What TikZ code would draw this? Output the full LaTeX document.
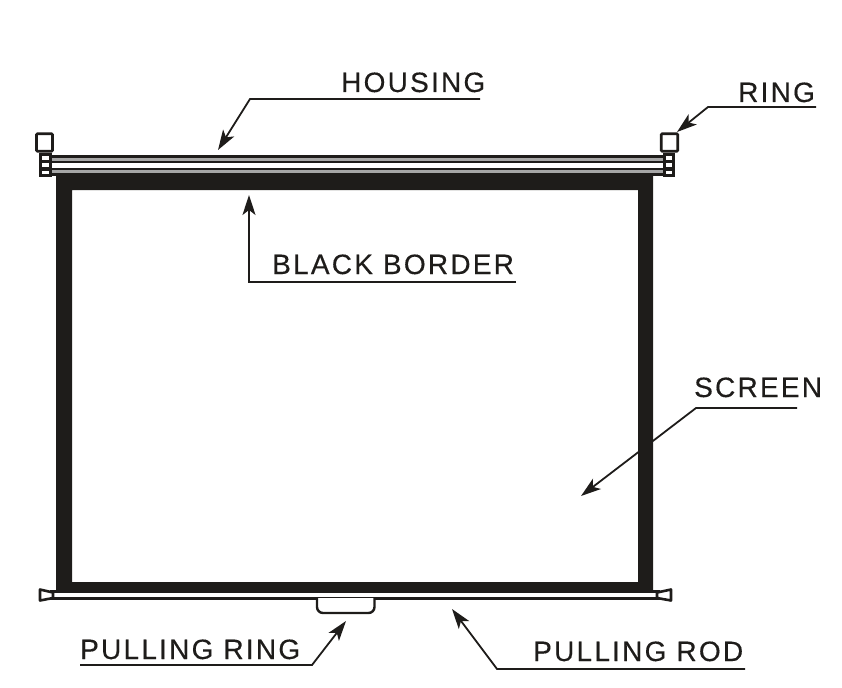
\documentclass[tikz,border=0pt]{standalone}
\usepackage{fontspec}
\setmainfont{Liberation Sans}[LetterSpace=8,FakeBold=0.35]
\usetikzlibrary{arrows.meta}
\definecolor{ink}{HTML}{1E1C1A}
\tikzset{
 lbl/.style={inner sep=0pt,anchor=base west,text=ink,font=\fontsize{28}{32}\selectfont},
 lead/.style={draw=ink,line width=1.8pt,-{Stealth[length=20pt,width=13pt,inset=5pt]}},
 outl/.style={draw=ink,line width=2.6pt,fill=white},
}
\begin{document}
\begin{tikzpicture}[x=1pt,y=-1pt]
\useasboundingbox (0,0) rectangle (842,687);
% black border
\fill[ink,even odd rule] (56,175) rectangle (653,592) (72,190) rectangle (638,582);
% housing
\fill[white] (50,155) rectangle (665,176);
\fill[ink] (50,155) rectangle (665,163.5);
\fill[gray!70] (50,158) rectangle (665,161);
\fill[ink] (50,167.5) rectangle (665,176);
\fill[gray!70] (50,170) rectangle (665,173);
% left ring
\node[outl,minimum width=16pt,minimum height=17.5pt,inner sep=0pt,rounded corners=1pt] (ringL) at (44.5,142.5) {};
\foreach \n/\y in {a/158,b/165,c/172.5}{\node[outl,minimum width=9.5pt,minimum height=6.5pt,inner sep=0pt] (L\n) at (45.5,\y) {};}
% right ring
\node[outl,minimum width=16.5pt,minimum height=17.5pt,inner sep=0pt,rounded corners=1pt] (ringR) at (669.5,142.5) {};
\foreach \n/\y in {a/158,b/165,c/172.5}{\node[outl,minimum width=9.5pt,minimum height=6.5pt,inner sep=0pt] (R\n) at (669,\y) {};}
% pulling rod
\fill[white] (50,592) rectangle (660,597);
\fill[ink] (50,597) rectangle (660,599.5);
\fill[ink] (50,590) rectangle (660,592.5);
% rod end caps
\draw[outl,line join=round] (53,592.5) -- (40,589.5) -- (40,600.5) -- (53,598) -- cycle;
\draw[outl,line join=round] (657,592.5) -- (671,589.5) -- (671,600.5) -- (657,598) -- cycle;
% pulling ring
\draw[draw=ink,line width=2.4pt,rounded corners=6pt,fill=white] (317,598) -- (317,613) -- (374.5,613) -- (374.5,598);
% labels
\node[lbl] (housing) at (341,92) {HOUSING};
\node[lbl] (ring) at (738,102) {RING};
\node[lbl] (border) at (272,274) {BLACK BORDER};
\node[lbl] (screen) at (694,397) {SCREEN};
\node[lbl] (pring) at (80,659) {PULLING RING};
\node[lbl] (prod) at (533,661) {PULLING ROD};
% connector anchors
\coordinate (h0) at (480,99); \coordinate (h1) at (250,99); \coordinate (h2) at (218,150);
\coordinate (r0) at (816,107); \coordinate (r1) at (708,107); \coordinate (r2) at (677,132);
\coordinate (b0) at (516,282); \coordinate (b1) at (249,282); \coordinate (b2) at (249,195);
\coordinate (s0) at (797,408); \coordinate (s1) at (696,408); \coordinate (s2) at (581,496);
\coordinate (p0) at (80,665); \coordinate (p1) at (312,665); \coordinate (p2) at (346,621);
\coordinate (q0) at (745,669); \coordinate (q1) at (497,669); \coordinate (q2) at (452,609);
\draw[lead] (h0) -- (h1) -- (h2);
\draw[lead] (r0) -- (r1) -- (r2);
\draw[lead] (b0) -- (b1) -- (b2);
\draw[lead] (s0) -- (s1) -- (s2);
\draw[lead] (p0) -- (p1) -- (p2);
\draw[lead] (q0) -- (q1) -- (q2);
\end{tikzpicture}
\end{document}
